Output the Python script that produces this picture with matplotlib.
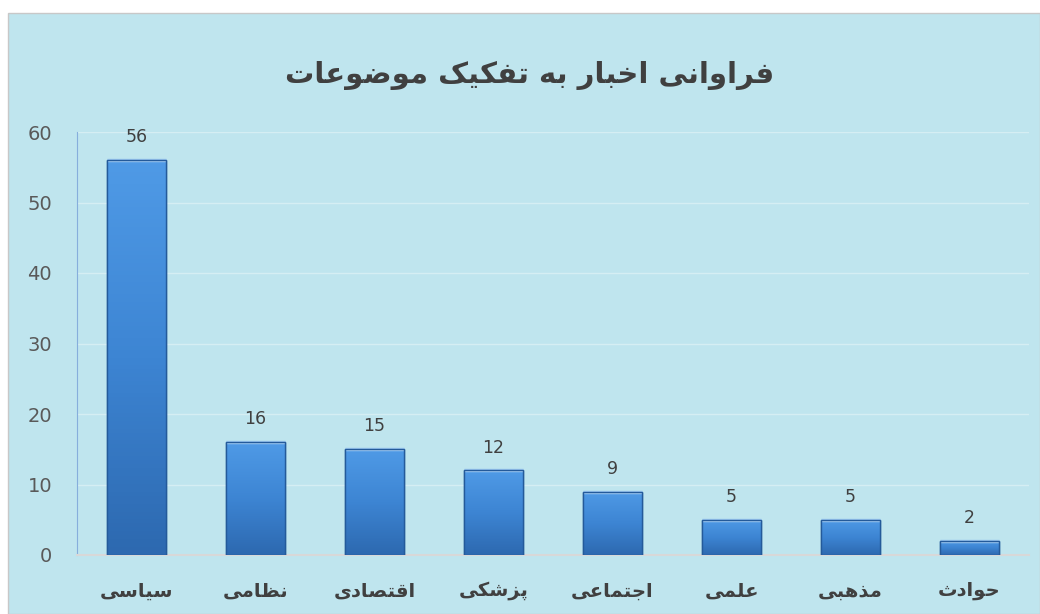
import numpy as np
import matplotlib
matplotlib.use("Agg")
import matplotlib.pyplot as plt
from matplotlib.patches import Rectangle

categories = ["سیاسی", "نظامی", "اقتصادی", "پزشکی", "اجتماعی", "علمی", "مذهبی", "حوادث"]
counts = [56, 16, 15, 12, 9, 5, 5, 2]
title = "فراوانی اخبار به تفکیک موضوعات"
yticks = [0, 10, 20, 30, 40, 50, 60]

# presentation forms: isolated, final, initial, medial (None = right-joining only)
FORMS = {
    "ا": (0xFE8D, 0xFE8E, None, None),
    "ب": (0xFE8F, 0xFE90, 0xFE91, 0xFE92),
    "ت": (0xFE95, 0xFE96, 0xFE97, 0xFE98),
    "ث": (0xFE99, 0xFE9A, 0xFE9B, 0xFE9C),
    "ج": (0xFE9D, 0xFE9E, 0xFE9F, 0xFEA0),
    "ح": (0xFEA1, 0xFEA2, 0xFEA3, 0xFEA4),
    "خ": (0xFEA5, 0xFEA6, 0xFEA7, 0xFEA8),
    "د": (0xFEA9, 0xFEAA, None, None),
    "ذ": (0xFEAB, 0xFEAC, None, None),
    "ر": (0xFEAD, 0xFEAE, None, None),
    "ز": (0xFEAF, 0xFEB0, None, None),
    "ژ": (0xFB8A, 0xFB8B, None, None),
    "س": (0xFEB1, 0xFEB2, 0xFEB3, 0xFEB4),
    "ش": (0xFEB5, 0xFEB6, 0xFEB7, 0xFEB8),
    "ص": (0xFEB9, 0xFEBA, 0xFEBB, 0xFEBC),
    "ض": (0xFEBD, 0xFEBE, 0xFEBF, 0xFEC0),
    "ط": (0xFEC1, 0xFEC2, 0xFEC3, 0xFEC4),
    "ظ": (0xFEC5, 0xFEC6, 0xFEC7, 0xFEC8),
    "ع": (0xFEC9, 0xFECA, 0xFECB, 0xFECC),
    "ف": (0xFED1, 0xFED2, 0xFED3, 0xFED4),
    "ق": (0xFED5, 0xFED6, 0xFED7, 0xFED8),
    "ک": (0xFB8E, 0xFB8F, 0xFB90, 0xFB91),
    "ل": (0xFEDD, 0xFEDE, 0xFEDF, 0xFEE0),
    "م": (0xFEE1, 0xFEE2, 0xFEE3, 0xFEE4),
    "ن": (0xFEE5, 0xFEE6, 0xFEE7, 0xFEE8),
    "ه": (0xFEE9, 0xFEEA, 0xFEEB, 0xFEEC),
    "و": (0xFEED, 0xFEEE, None, None),
    "ی": (0xFBFC, 0xFBFD, 0xFBFE, 0xFBFF),
    "پ": (0xFB56, 0xFB57, 0xFB58, 0xFB59),
}


def shape(text):
    out = []
    for i, ch in enumerate(text):
        if ch not in FORMS:
            out.append(ch)
            continue
        prev = text[i - 1] if i > 0 else ""
        nxt = text[i + 1] if i + 1 < len(text) else ""
        joins_prev = prev in FORMS and FORMS[prev][2] is not None
        joins_next = FORMS[ch][2] is not None and nxt in FORMS
        iso, fin, ini, med = FORMS[ch]
        if joins_prev and joins_next:
            out.append(chr(med))
        elif joins_prev:
            out.append(chr(fin))
        elif joins_next:
            out.append(chr(ini))
        else:
            out.append(chr(iso))
    return "".join(out)[::-1]


plt.rcParams["font.family"] = ["DejaVu Sans"]

fig = plt.figure(figsize=(10.4, 6.14), dpi=100, facecolor="white")
W, H = 1040, 614

# chart area background (own axes underneath)
bgax = fig.add_axes([0, 0, 1, 1], zorder=-10)
bgax.set_xlim(0, W)
bgax.set_ylim(H, 0)
bgax.axis("off")
bgax.add_patch(Rectangle((8, 13), W - 8, H - 13, facecolor="#bfe5ee",
                         edgecolor="#c8c8c8", linewidth=1))

ax = fig.add_axes([77 / W, 1 - 555 / H, 952 / W, (555 - 132) / H])
ax.patch.set_alpha(0)

x = np.arange(len(categories))
bars = ax.bar(x, counts, width=0.5, color="#3a80cc", edgecolor="#255d9e",
              linewidth=1, zorder=3)

grad = np.linspace(0, 1, 100).reshape(-1, 1)
cmap = matplotlib.colors.LinearSegmentedColormap.from_list(
    "b", ["#2d69b0", "#3d85d3", "#4f9ae6"])
for b in bars:
    x0, w, h = b.get_x(), b.get_width(), b.get_height()
    im = ax.imshow(grad, cmap=cmap, aspect="auto", origin="lower",
                   extent=[x0, x0 + w, 0, h], zorder=3.5)
    im.set_clip_path(b)
    # lighter bevel edge on top
    ax.plot([x0, x0 + w], [h, h], color="#9cc8f2", lw=2.5, zorder=4,
            solid_capstyle="butt")
    ax.bar(b.get_x() + w / 2, h, width=w, fill=False, edgecolor="#245a9a",
           linewidth=1, zorder=5)

for xi, v in zip(x, counts):
    ax.annotate(str(v), (xi, v), xytext=(0, 10), textcoords="offset points",
                ha="center", va="bottom", fontsize=12.5, color="#404040")

ax.set_xlim(-0.5, len(categories) - 0.5)
ax.set_ylim(0, 60)
ax.set_yticks(yticks)
ax.tick_params(axis="y", length=0, pad=18, labelsize=14, labelcolor="#595959")
ax.set_xticks(x)
ax.set_xticklabels([shape(c) for c in categories], fontsize=14,
                   fontweight="bold", color="#404040")
ax.tick_params(axis="x", length=0, pad=19)
ax.grid(axis="y", color="white", alpha=0.35, linewidth=1, zorder=1)
ax.set_axisbelow(True)
for s in ["top", "right"]:
    ax.spines[s].set_visible(False)
ax.spines["left"].set_color("#86aedc")
ax.spines["bottom"].set_color("#d8d8d8")
ax.spines["bottom"].set_linewidth(1.5)

fig.text(530 / W, 1 - 75 / H, shape(title), ha="center", va="center",
         fontsize=21, fontweight="bold", color="#404040")

fig.savefig("out.png", dpi=100, facecolor="white")
